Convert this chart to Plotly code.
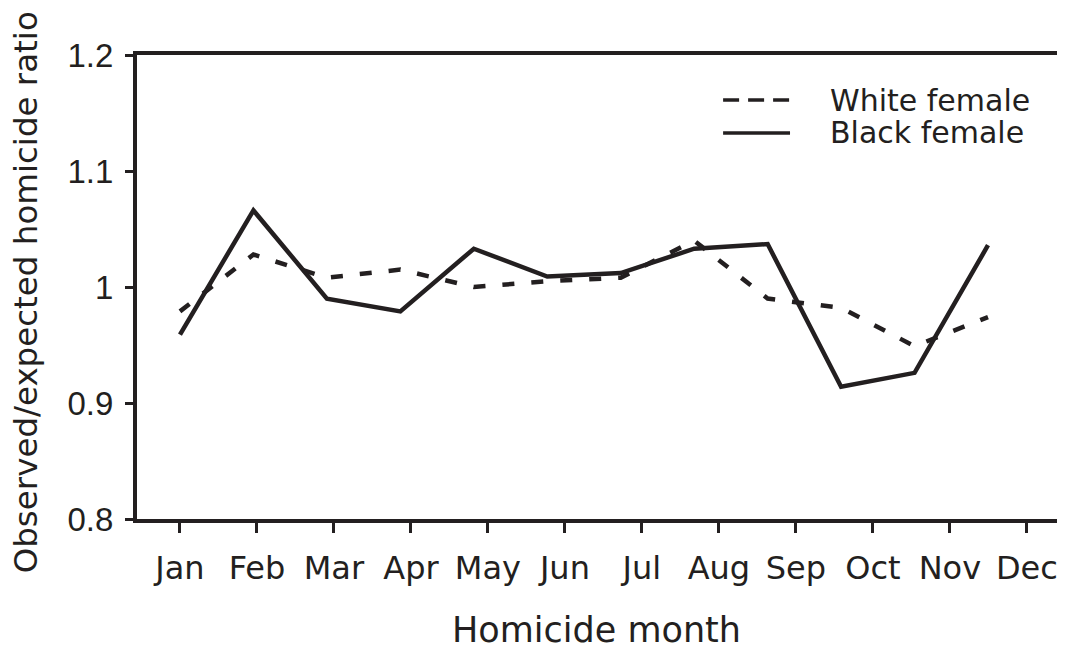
import plotly.graph_objects as go

months = ["Jan", "Feb", "Mar", "Apr", "May", "Jun", "Jul", "Aug", "Sep", "Oct", "Nov", "Dec"]
white_female = [0.979, 1.028, 1.008, 1.015, 1.000, 1.005, 1.008, 1.040, 0.990, 0.982, 0.949, 0.974]
black_female = [0.959, 1.066, 0.990, 0.979, 1.033, 1.009, 1.012, 1.033, 1.037, 0.914, 0.926, 1.036]
y_ticks = [0.8, 0.9, 1.0, 1.1, 1.2]
y_ticktext = ["0.8", "0.9", "1", "1.1", "1.2"]

INK = "#231f20"
FONT = "DejaVu Sans"
NUMFONT = "Liberation Sans"
idx = list(range(len(months)))

fig = go.Figure()
# empty trace so the month-tick axis (x) is drawn
fig.add_trace(go.Scatter(x=idx, y=[None] * len(idx), mode="lines", xaxis="x",
                         hoverinfo="skip", showlegend=False))
fig.add_trace(go.Scatter(x=idx, y=white_female, mode="lines", xaxis="x2",
                         line=dict(color=INK, width=4.5, dash="12px,17px"),
                         name="White female", showlegend=False))
fig.add_trace(go.Scatter(x=idx, y=black_female, mode="lines", xaxis="x2",
                         line=dict(color=INK, width=4.5),
                         name="Black female", showlegend=False))

# legend (drawn manually)
fig.add_shape(type="line", xref="paper", yref="paper", x0=0.635, x1=0.7075, y0=0.903, y1=0.903,
              line=dict(color=INK, width=3.5, dash="16px,9px"))
fig.add_shape(type="line", xref="paper", yref="paper", x0=0.635, x1=0.7075, y0=0.832, y1=0.832,
              line=dict(color=INK, width=3.5))
fig.add_annotation(xref="paper", yref="paper", x=0.7486, y=0.903, text="White female",
                   showarrow=False, xanchor="left", yanchor="middle",
                   font=dict(family=FONT, size=30, color=INK))
fig.add_annotation(xref="paper", yref="paper", x=0.7486, y=0.832, text="Black female",
                   showarrow=False, xanchor="left", yanchor="middle",
                   font=dict(family=FONT, size=30, color=INK))

# axis titles
fig.add_annotation(xref="paper", yref="paper", x=0.498, y=-0.239, text="Homicide month",
                   showarrow=False, xanchor="center", yanchor="middle",
                   font=dict(family=FONT, size=35, color=INK))
fig.add_annotation(xref="paper", yref="paper", x=-0.12, y=0.489, text="Observed/expected homicide ratio",
                   showarrow=False, xanchor="center", yanchor="middle", textangle=-90,
                   font=dict(family=FONT, size=32.5, color=INK))

fig.update_layout(
    width=1057, height=645,
    margin=dict(l=129, r=5, t=47, b=134, autoexpand=False),
    paper_bgcolor="white", plot_bgcolor="white",
    font=dict(family=FONT, color=INK),
    xaxis=dict(range=[-0.558, 11.43], tickvals=idx, ticktext=months, automargin=False,
               showgrid=False, zeroline=False, showline=True, linecolor=INK, linewidth=4,
               mirror=True, ticks="outside", ticklen=10, tickwidth=3, tickcolor=INK,
               tickfont=dict(family=FONT, size=32, color=INK), ticklabelstandoff=8),
    xaxis2=dict(range=[-0.585, 11.98], overlaying="x", visible=False),
    yaxis=dict(range=[0.8, 1.2], tickvals=y_ticks, ticktext=y_ticktext, automargin=False,
               showgrid=False, zeroline=False, showline=True, linecolor=INK, linewidth=4,
               mirror=True, ticks="outside", ticklen=8, tickwidth=3, tickcolor=INK,
               tickfont=dict(family=NUMFONT, size=33, color=INK), ticklabelstandoff=5),
)

fig.write_html("out.html")
